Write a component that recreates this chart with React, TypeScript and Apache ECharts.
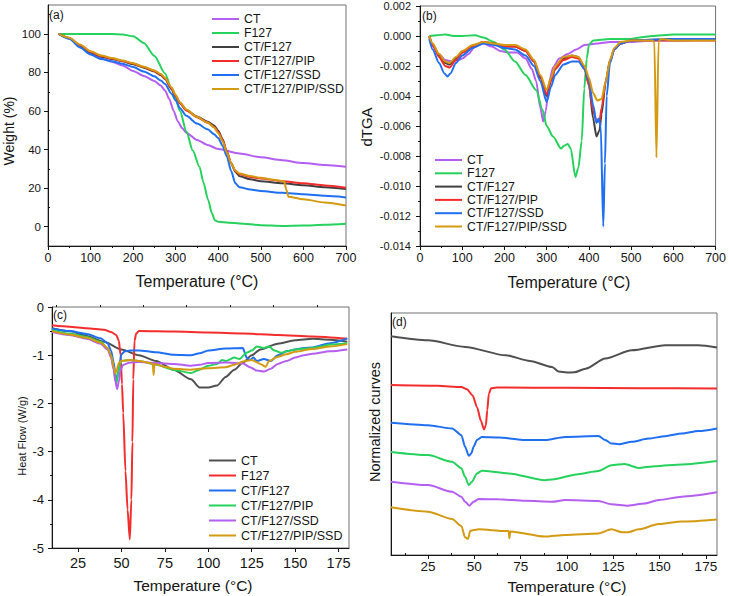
import React, { useEffect, useRef } from "react";
import * as echarts from "echarts";

// ---------- Panel (a) TGA ----------
const aCTx = [25, 50, 75, 100, 125, 150, 175, 200, 225, 250, 265, 275, 285, 295, 305, 315, 325, 350, 375, 400, 450, 500, 550, 600, 650, 700];
const aCTy = [100, 97.6, 93.8, 89.8, 87.2, 85.6, 83.6, 80.8, 78.2, 75.6, 73.2, 70.6, 66.2, 60.2, 54.6, 51.2, 48.8, 45, 42.4, 40.3, 38, 36, 34.5, 33, 32, 31.1];
const aF127x = [25, 50, 100, 150, 175, 200, 225, 250, 275, 290, 300, 310, 325, 340, 356, 365, 376, 385, 392, 400, 425, 450, 500, 550, 600, 650, 700];
const aF127y = [100, 100, 100, 100, 99.7, 98.8, 95.3, 88.6, 79.5, 71.5, 66, 60, 49.5, 39.5, 31, 23, 14, 7, 3.3, 2.6, 2.1, 1.7, 0.8, 0.4, 0.6, 1.0, 1.5];
const aMixX = [25, 50, 75, 100, 125, 150, 175, 200, 225, 250, 265, 275, 290, 300, 310, 325, 350, 375, 390, 400, 410, 420, 430, 440, 450, 475, 500, 550, 600, 650, 700];
const aCTF127y = [100, 97.8, 94, 90.5, 88.2, 87, 85.8, 84.3, 82.5, 80.5, 78.6, 76.6, 71.5, 67.6, 64, 60.5, 57.2, 54.5, 52.5, 49.8, 45.5, 39, 33, 28.5, 26.2, 24.6, 23.6, 22.5, 21.5, 20.5, 19.5];
const aPIPy = [100, 97.9, 94.3, 90.8, 88.5, 87.2, 86, 84.6, 82.8, 80.8, 78.9, 76.9, 71.8, 67.8, 64, 60.3, 56.8, 54, 51.8, 49, 45, 39, 33, 29, 27.2, 25.8, 25, 23.6, 22.6, 21.4, 20.2];
const aSSDy = [100, 97.5, 93, 89.3, 87, 85.8, 84.5, 82.8, 80.5, 78, 75.8, 74, 69, 65.5, 61.5, 57.5, 53.5, 50.5, 48, 46, 42, 36.5, 29, 22.5, 20.5, 19.3, 18.5, 17.6, 16.8, 16, 15.2];
const aPSx = [25, 50, 75, 100, 125, 150, 175, 200, 225, 250, 265, 275, 290, 300, 310, 325, 350, 375, 390, 400, 410, 420, 430, 440, 450, 475, 500, 530, 555, 560, 565, 600, 650, 700];
const aPSy = [100, 98, 94.5, 91, 88.8, 87.5, 86.2, 84.8, 83, 81, 79.2, 77.2, 72.3, 68.3, 64.5, 60.8, 57, 54, 51.5, 48.5, 44.5, 38.5, 33, 29.2, 27.6, 26.3, 25.4, 24.4, 23.5, 19, 15.5, 14.2, 12.6, 11];
const aYTicks = [0, 20, 40, 60, 80, 100];
const aYMinor = [10, 30, 50, 70, 90, 110];

// ---------- Panel (b) dTGA ----------
const bCTx = [22, 30, 45, 60, 75, 90, 100, 115, 130, 150, 170, 190, 210, 230, 250, 265, 275, 285, 292, 298, 305, 315, 330, 350, 370, 390, 420, 450, 500, 550, 600, 700];
const bCTy = [-0.0001, -0.0007, -0.0012, -0.0016, -0.0017, -0.0016, -0.0015, -0.0012, -0.0007, -0.0005, -0.0007, -0.001, -0.0011, -0.0011, -0.0015, -0.0022, -0.003, -0.0048, -0.0057, -0.005, -0.0032, -0.0021, -0.0015, -0.0012, -0.0009, -0.0006, -0.0005, -0.0004, -0.0004, -0.0003, -0.0003, -0.0002];
const bF127x = [22, 40, 60, 80, 100, 130, 150, 175, 200, 225, 250, 275, 290, 300, 315, 334, 342, 350, 357, 368, 375, 383, 389, 395, 400, 410, 450, 500, 520, 550, 600, 650, 700];
const bF127y = [0, 0.00005, 0.0001, 0, 0, 0.00005, -0.0001, -0.0004, -0.0009, -0.0017, -0.0026, -0.0036, -0.0049, -0.006, -0.0067, -0.0075, -0.0073, -0.0072, -0.0075, -0.0094, -0.0088, -0.007, -0.0035, -0.0015, -0.0006, -0.0003, -0.0002, -0.0002, -0.0001, 0, 0.0001, 0.0001, 0.0001];
const bMixX = [22, 30, 45, 60, 70, 85, 100, 125, 150, 175, 200, 225, 250, 270, 285, 300, 310, 320, 340, 360, 375, 390, 400, 410, 418, 425, 430, 440, 450, 460, 475, 500, 600, 700];
const bCTF127y = [0, -0.0006, -0.0013, -0.0018, -0.0019, -0.0015, -0.0011, -0.0007, -0.0004, -0.0005, -0.0007, -0.0007, -0.001, -0.0017, -0.0028, -0.004, -0.003, -0.0022, -0.0015, -0.0013, -0.0014, -0.0022, -0.0032, -0.0055, -0.0067, -0.0063, -0.0052, -0.003, -0.0017, -0.0009, -0.0005, -0.0003, -0.0002, -0.0002];
const bPIPy = [0, -0.0006, -0.0014, -0.002, -0.0021, -0.0016, -0.0011, -0.0007, -0.0004, -0.0005, -0.0007, -0.0007, -0.001, -0.0017, -0.0027, -0.0039, -0.003, -0.0022, -0.0016, -0.0014, -0.0015, -0.0022, -0.0033, -0.005, -0.0057, -0.0057, -0.0048, -0.003, -0.0016, -0.0009, -0.0005, -0.0003, -0.0003, -0.0003];
const bSSDx = [22, 30, 45, 58, 65, 72, 85, 100, 125, 150, 175, 200, 225, 250, 270, 285, 300, 310, 320, 340, 360, 375, 390, 400, 410, 418, 423, 428, 434, 438, 442, 450, 460, 475, 500, 600, 700];
const bSSDy = [-0.0002, -0.0009, -0.0018, -0.0025, -0.0027, -0.0025, -0.0018, -0.0013, -0.0008, -0.0005, -0.0006, -0.0008, -0.0009, -0.0013, -0.002, -0.003, -0.0044, -0.0034, -0.0026, -0.0019, -0.0017, -0.0017, -0.0022, -0.003, -0.0046, -0.0058, -0.0055, -0.006, -0.0127, -0.0085, -0.004, -0.0018, -0.0009, -0.0005, -0.0003, -0.0002, -0.0002];
const bPSx = [22, 30, 45, 60, 70, 85, 100, 125, 150, 175, 200, 225, 250, 270, 285, 300, 310, 320, 340, 360, 375, 390, 400, 410, 420, 430, 440, 450, 460, 475, 500, 550, 555, 560, 565, 570, 600, 700];
const bPSy = [0, -0.0005, -0.0012, -0.0017, -0.0018, -0.0014, -0.001, -0.0006, -0.0004, -0.0005, -0.0006, -0.0006, -0.0009, -0.0016, -0.0026, -0.0036, -0.0028, -0.002, -0.0014, -0.0013, -0.0014, -0.002, -0.0028, -0.0038, -0.0043, -0.0042, -0.003, -0.0016, -0.0008, -0.0004, -0.0003, -0.0003, -0.0004, -0.0081, -0.0004, -0.0002, -0.0003, -0.0003];

// ---------- Panel (c) DSC ----------
const cCTx = [10, 20, 30, 40, 50, 60, 70, 80, 90, 95, 100, 105, 110, 115, 120, 125, 130, 140, 150, 160, 170, 180];
const cCTy = [-0.44, -0.5, -0.6, -0.72, -0.88, -1.0, -1.12, -1.3, -1.5, -1.67, -1.67, -1.63, -1.45, -1.3, -1.15, -1.0, -0.88, -0.76, -0.69, -0.66, -0.68, -0.72];
const cF127x = [10, 20, 30, 40, 44, 47, 48.5, 49.5, 50.3, 51, 52.3, 53.5, 54.8, 55.7, 56.3, 56.8, 57.5, 58.5, 60, 80, 100, 120, 140, 160, 180];
const cF127y = [-0.38, -0.41, -0.44, -0.47, -0.52, -0.58, -0.7, -1.0, -1.6, -2.2, -3.4, -4.2, -4.82, -4.0, -2.8, -1.5, -0.7, -0.55, -0.5, -0.51, -0.53, -0.55, -0.58, -0.61, -0.66];
const cCTF127x = [10, 20, 30, 38, 42, 44, 45.5, 46.5, 47.3, 48, 49, 50, 52, 55, 60, 70, 80, 90, 95, 100, 110, 120, 121, 122, 124, 126, 128, 132, 136, 140, 145, 150, 155, 160, 170, 180];
const cCTF127y = [-0.45, -0.5, -0.56, -0.65, -0.75, -0.9, -1.15, -1.4, -1.5, -1.4, -1.15, -0.98, -0.92, -0.9, -0.9, -0.94, -0.99, -1.0, -0.96, -0.9, -0.86, -0.85, -0.95, -1.05, -1.1, -1.05, -1.12, -1.08, -1.12, -1.0, -0.92, -0.88, -0.85, -0.84, -0.75, -0.65];
const cPIPx = [10, 20, 30, 38, 42, 44, 45.5, 46.5, 47.2, 48, 49, 50, 55, 60, 70, 80, 90, 95, 100, 105, 108, 110, 115, 118, 122, 125, 128, 132, 135, 138, 142, 145, 150, 160, 165, 170, 180];
const cPIPy = [-0.48, -0.55, -0.62, -0.72, -0.85, -1.0, -1.25, -1.5, -1.58, -1.35, -1.2, -1.12, -1.1, -1.12, -1.2, -1.3, -1.37, -1.3, -1.22, -1.18, -1.1, -1.12, -1.05, -1.08, -0.95, -0.9, -0.82, -0.85, -0.82, -0.9, -0.95, -0.92, -0.88, -0.85, -0.82, -0.78, -0.75];
const cSSDx = [10, 20, 30, 38, 42, 44, 45.5, 46.5, 47.5, 48.5, 49.5, 51, 55, 60, 70, 80, 90, 95, 100, 110, 120, 124, 128, 132, 136, 140, 145, 150, 155, 160, 170, 180];
const cSSDy = [-0.52, -0.58, -0.66, -0.76, -0.88, -1.05, -1.3, -1.55, -1.7, -1.55, -1.3, -1.2, -1.15, -1.14, -1.16, -1.18, -1.22, -1.2, -1.16, -1.15, -1.17, -1.25, -1.32, -1.34, -1.28, -1.18, -1.12, -1.05, -1.0, -0.97, -0.92, -0.88];
const cPSx = [10, 20, 30, 38, 42, 44, 45.5, 46.5, 47.3, 48.5, 50, 55, 60, 68, 68.5, 69, 75, 80, 90, 95, 100, 110, 115, 120, 125, 130, 133, 135, 140, 145, 150, 160, 170, 180];
const cPSy = [-0.5, -0.57, -0.64, -0.74, -0.85, -1.0, -1.25, -1.38, -1.3, -1.16, -1.12, -1.1, -1.12, -1.17, -1.41, -1.18, -1.24, -1.28, -1.3, -1.28, -1.27, -1.25, -1.2, -1.13, -1.1, -1.18, -1.24, -1.12, -1.03, -0.98, -0.93, -0.87, -0.82, -0.77];
const cXTicks = [25, 50, 75, 100, 125, 150, 175];
const cXMinor = [12.5, 37.5, 62.5, 87.5, 112.5, 137.5, 162.5];

// ---------- Panel (d) normalized DSC ----------
const dCTx = [5, 25, 45, 67, 80, 92, 95.5, 100, 104, 110, 120.7, 135, 153, 171, 181];
const dCTy = [90.4, 88.7, 86, 82.5, 80.2, 77.7, 75.8, 75.4, 75.5, 77, 81.2, 84.6, 86.7, 86.7, 85.7];
const dF127x = [5, 30, 43, 46, 49, 51.5, 53.5, 55.2, 56.2, 57, 57.8, 59, 62, 100, 140, 181];
const dF127y = [70.2, 69.9, 69.4, 68.5, 66, 61, 55.5, 51.9, 53.5, 60, 66.5, 68.9, 69.2, 69.1, 68.9, 68.8];
const dCTF127x = [5, 25, 38, 43, 45, 47, 48.4, 49.6, 51.4, 54, 63, 77.5, 88, 99, 117, 120.7, 124, 128, 135, 144, 153, 162, 171, 181];
const dCTF127y = [54.6, 53.6, 52.3, 49.5, 44.7, 41, 42, 44.7, 47.5, 48.8, 48.6, 47.5, 47.5, 48.8, 49.2, 47.5, 46.1, 45.8, 46.8, 48.1, 49.1, 50.2, 51.2, 52.3];
const dPIPx = [5, 25, 38, 43, 45, 47, 48.7, 51.4, 54, 68.5, 88, 92, 106, 117, 124, 131, 138.7, 147.7, 162, 181];
const dPIPy = [42.6, 41.3, 38.5, 35.8, 32.3, 28.9, 30.3, 33.7, 34.8, 33.7, 30.9, 31.2, 33.4, 34.7, 37.1, 37.6, 36, 36.7, 37.4, 38.8];
const dSSDx = [5, 25, 38, 43, 45, 47.3, 49.6, 52.3, 63, 77.5, 92, 99, 117, 124, 133, 142, 149.5, 162, 181];
const dSSDy = [30.3, 28.9, 26.1, 24.1, 22, 20.4, 22, 23.1, 23, 22.4, 22, 22.7, 22.3, 21, 20.4, 21.3, 22.7, 24.1, 25.9];
const dPSx = [5, 25, 38, 43, 45, 46.6, 47.8, 49.6, 52.3, 66.7, 68.5, 68.9, 69.4, 88, 99, 117, 124, 129.7, 133, 138.7, 149.5, 162, 181];
const dPSy = [19.7, 17.9, 14.9, 12, 7.3, 6.7, 10, 10.3, 10.6, 9.9, 9.9, 6.9, 9.7, 7.6, 8.3, 8.9, 10.6, 9.4, 9.4, 10.6, 12.8, 13.8, 14.7];
const dXTicks = [25, 50, 75, 100, 125, 150, 175];
const dXMinor = [12.5, 37.5, 62.5, 87.5, 112.5, 137.5, 162.5];

const names = ["CT", "F127", "CT/F127", "CT/F127/PIP", "CT/F127/SSD", "CT/F127/PIP/SSD"];
const colorsAB = ["#b45ef2", "#25d25c", "#404040", "#f52c2c", "#1f6ff2", "#d49a12"];
const colorsCD = ["#505050", "#f52c2c", "#1f6ff2", "#25d25c", "#b45ef2", "#d49a12"];

const FONT = "'Liberation Sans', Arial, sans-serif";
const INK = "#151515";
const LINE_ICON = "path://M0,6L27,6L27,8L0,8Z";

const zip = (xs: number[], ys: number[]) => xs.map((x, i) => [x, ys[i]]);

function mkSeries(panel: string, idx: number, color: string, xs: number[], ys: number[], xi: number, yi: number) {
  return {
    type: "line",
    name: names[idx] + "#" + panel,
    xAxisIndex: xi,
    yAxisIndex: yi,
    data: zip(xs, ys),
    symbol: "none",
    showSymbol: false,
    smooth: 0.25,
    smoothMonotone: "x",
    lineStyle: { width: 2, color },
    itemStyle: { color },
    z: 2 + idx,
  };
}

const baseAxis = {
  type: "value",
  splitLine: { show: false },
  axisLine: { show: true, onZero: false, lineStyle: { color: INK, width: 1 } },
  axisTick: { show: true, length: 4, lineStyle: { color: INK } },
  axisLabel: { color: INK, fontFamily: FONT },
};

function overlayAxis(gridIndex: number, min: number, max: number, vals: number[]) {
  return {
    type: "value",
    gridIndex,
    min,
    max,
    splitLine: { show: false },
    axisLine: { show: false },
    axisLabel: { show: false },
    axisTick: { show: true, length: 2, customValues: vals, lineStyle: { color: INK } },
  };
}

function legend(panel: string, left: number, top: number, gap: number, fontSize: number) {
  return {
    left,
    top,
    orient: "vertical",
    icon: LINE_ICON,
    itemWidth: 27,
    itemHeight: 14,
    itemGap: gap,
    selectedMode: false,
    data: names.map((n) => n + "#" + panel),
    formatter: (n: string) => n.split("#")[0],
    textStyle: { fontSize, color: INK, fontFamily: FONT },
  };
}

function txt(text: string, x: number, y: number, fontSize: number, rotate = false, align = "center", vAlign = "middle") {
  return {
    type: "text",
    x,
    y,
    rotation: rotate ? Math.PI / 2 : 0,
    style: { text, fontSize, fontFamily: FONT, fill: INK, textAlign: align, textVerticalAlign: vAlign },
  };
}

export default function App() {
  const ref = useRef<HTMLDivElement>(null);
  useEffect(() => {
    if (!ref.current) return;
    const chart = echarts.init(ref.current, null, { renderer: "svg" });
    const gridStyle = { show: true, borderColor: "#707070", borderWidth: 1, backgroundColor: "transparent" };
    const option: any = {
      animation: false,
      textStyle: { fontFamily: FONT },
      grid: [
        { left: 48, top: 5, width: 298, height: 241, ...gridStyle },
        { left: 420, top: 6, width: 298, height: 240, ...gridStyle },
        { left: 52, top: 307, width: 297, height: 241, ...gridStyle },
        { left: 391, top: 313, width: 326, height: 242, ...gridStyle },
      ],
      xAxis: [
        { ...baseAxis, gridIndex: 0, min: 0, max: 700, interval: 100,
          minorTick: { show: true, splitNumber: 2, length: 2, lineStyle: { color: INK } },
          axisLabel: { ...baseAxis.axisLabel, fontSize: 12.5, margin: 5 } },
        { ...baseAxis, gridIndex: 1, min: 0, max: 700, interval: 100,
          minorTick: { show: true, splitNumber: 2, length: 2, lineStyle: { color: INK } },
          axisLabel: { ...baseAxis.axisLabel, fontSize: 12.5, margin: 5 } },
        { ...baseAxis, gridIndex: 2, min: 10, max: 181,
          axisTick: { ...baseAxis.axisTick, customValues: cXTicks },
          axisLabel: { ...baseAxis.axisLabel, fontSize: 14.5, margin: 7, customValues: cXTicks } },
        overlayAxis(2, 10, 181, cXMinor),
        { ...baseAxis, gridIndex: 3, min: 5, max: 181,
          axisTick: { ...baseAxis.axisTick, customValues: dXTicks },
          axisLabel: { ...baseAxis.axisLabel, fontSize: 13.5, margin: 4, customValues: dXTicks } },
        overlayAxis(3, 5, 181, dXMinor),
      ],
      yAxis: [
        { ...baseAxis, gridIndex: 0, min: -10, max: 115,
          axisTick: { ...baseAxis.axisTick, customValues: aYTicks },
          axisLabel: { ...baseAxis.axisLabel, fontSize: 11.5, margin: 7, customValues: aYTicks } },
        overlayAxis(0, -10, 115, aYMinor),
        { ...baseAxis, gridIndex: 1, min: -0.014, max: 0.002, interval: 0.002,
          minorTick: { show: true, splitNumber: 2, length: 2, lineStyle: { color: INK } },
          axisLabel: { ...baseAxis.axisLabel, fontSize: 11, margin: 9,
            formatter: (v: number) => (Math.abs(v) < 1e-9 ? "0.000" : v.toFixed(3)) } },
        { ...baseAxis, gridIndex: 2, min: -5, max: 0, interval: 1,
          minorTick: { show: true, splitNumber: 2, length: 2, lineStyle: { color: INK } },
          axisLabel: { ...baseAxis.axisLabel, fontSize: 13, margin: 8 } },
        { ...baseAxis, gridIndex: 3, min: 0, max: 100,
          axisTick: { show: false }, axisLabel: { show: false } },
      ],
      legend: [
        legend("a", 207, 8, 2, 12.3),
        legend("b", 430, 149, 1.3, 12.3),
        legend("c", 204, 449, 2, 12.5),
      ],
      series: [
        mkSeries("a", 0, colorsAB[0], aCTx, aCTy, 0, 0),
        mkSeries("a", 1, colorsAB[1], aF127x, aF127y, 0, 0),
        mkSeries("a", 2, colorsAB[2], aMixX, aCTF127y, 0, 0),
        mkSeries("a", 3, colorsAB[3], aMixX, aPIPy, 0, 0),
        mkSeries("a", 4, colorsAB[4], aMixX, aSSDy, 0, 0),
        mkSeries("a", 5, colorsAB[5], aPSx, aPSy, 0, 0),
        mkSeries("b", 0, colorsAB[0], bCTx, bCTy, 1, 2),
        mkSeries("b", 1, colorsAB[1], bF127x, bF127y, 1, 2),
        mkSeries("b", 2, colorsAB[2], bMixX, bCTF127y, 1, 2),
        mkSeries("b", 3, colorsAB[3], bMixX, bPIPy, 1, 2),
        mkSeries("b", 4, colorsAB[4], bSSDx, bSSDy, 1, 2),
        mkSeries("b", 5, colorsAB[5], bPSx, bPSy, 1, 2),
        mkSeries("c", 0, colorsCD[0], cCTx, cCTy, 2, 3),
        mkSeries("c", 1, colorsCD[1], cF127x, cF127y, 2, 3),
        mkSeries("c", 2, colorsCD[2], cCTF127x, cCTF127y, 2, 3),
        mkSeries("c", 3, colorsCD[3], cPIPx, cPIPy, 2, 3),
        mkSeries("c", 4, colorsCD[4], cSSDx, cSSDy, 2, 3),
        mkSeries("c", 5, colorsCD[5], cPSx, cPSy, 2, 3),
        mkSeries("d", 0, colorsCD[0], dCTx, dCTy, 4, 4),
        mkSeries("d", 1, colorsCD[1], dF127x, dF127y, 4, 4),
        mkSeries("d", 2, colorsCD[2], dCTF127x, dCTF127y, 4, 4),
        mkSeries("d", 3, colorsCD[3], dPIPx, dPIPy, 4, 4),
        mkSeries("d", 4, colorsCD[4], dSSDx, dSSDy, 4, 4),
        mkSeries("d", 5, colorsCD[5], dPSx, dPSy, 4, 4),
      ],
      graphic: [
        txt("(a)", 49, 9, 12, false, "left", "top"),
        txt("(b)", 422, 10, 12, false, "left", "top"),
        txt("(c)", 53, 309, 12, false, "left", "top"),
        txt("(d)", 392, 316, 12, false, "left", "top"),
        txt("Weight (%)", 9, 131, 14, true),
        txt("Temperature (°C)", 197, 281, 16),
        txt("dTGA", 366, 127, 15, true),
        txt("Temperature (°C)", 569, 282, 16),
        txt("Heat Flow (W/g)", 22, 436, 11, true),
        txt("Temperature (°C)", 193, 585, 15.5),
        txt("Normalized curves", 375, 422, 14.5, true),
        txt("Temperature (°C)", 567, 586, 15.5),
      ],
    };
    chart.setOption(option);
    return () => chart.dispose();
  }, []);
  return (
    <div
      ref={ref}
      style={{ position: "absolute", left: 0, top: 0, width: 729, height: 596, background: "#fff" }}
    />
  );
}
